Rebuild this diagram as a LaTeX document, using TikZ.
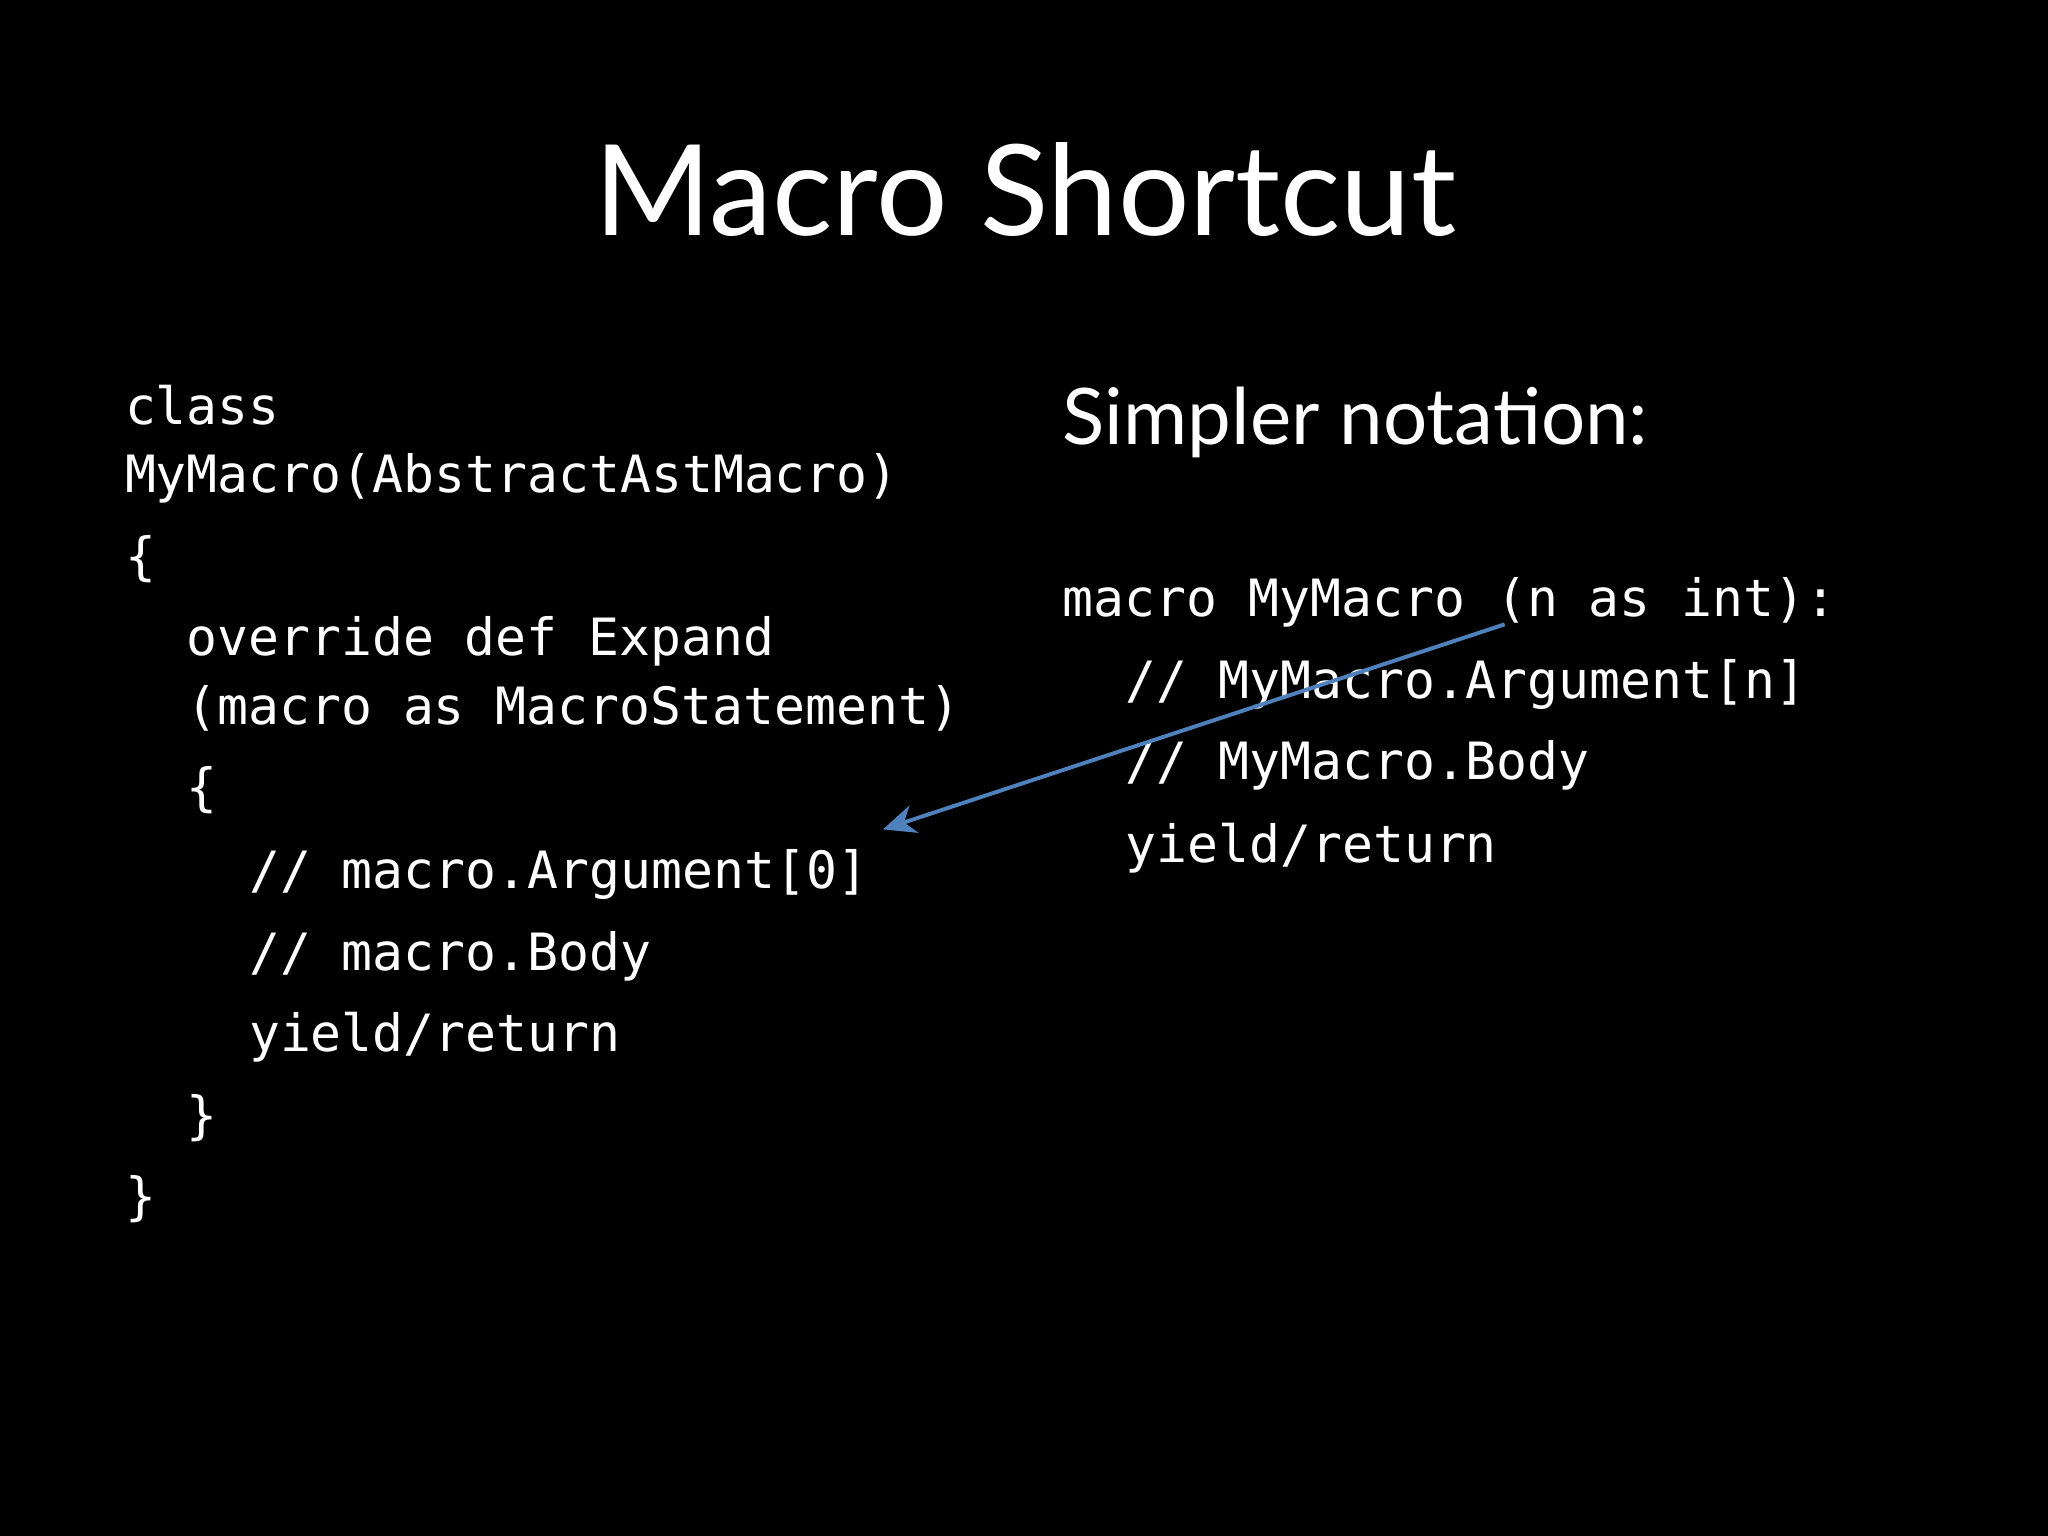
\documentclass[tikz,border=0pt]{standalone}
\usepackage{fontspec}
\setmainfont{Lato}
\setmonofont{DejaVu Sans Mono}
\begin{document}
\begin{tikzpicture}[x=0.1mm,y=-0.1mm]
\tikzset{code/.style={anchor=base west,inner sep=0pt,text=white,font=\ttfamily\fontsize{11.2}{12}\selectfont},
arr/.style={draw={rgb,255:red,79;green,129;blue,189},line width=0.3mm,-{Stealth[length=2.5mm,width=2.2mm,inset=0.8mm]}}}
\usetikzlibrary{arrows.meta}
\fill[black] (0,0) rectangle (1568,1176);
\node[anchor=base,inner sep=0pt,text=white,font=\fontsize{27.5}{30}\selectfont] (title) at (785,180) {Macro Shortcut};
\node[anchor=base west,inner sep=0pt,text=white,font=\fontsize{17}{20}\selectfont] (simp) at (813,340) {Simpler notation:};
\node[code] (l1) at (95,325) {class};
\node[code] (l2) at (95,377) {MyMacro(AbstractAstMacro)};
\node[code] (l3) at (95,440) {\{};
\node[code] (l4) at (142,502) {override def Expand};
\node[code] (l5) at (142,555) {(macro as MacroStatement)};
\node[code] (l6) at (142,617) {\{};
\node[code] (l7) at (190,680) {// macro.Argument[0]};
\node[code] (l8) at (190,743) {// macro.Body};
\node[code] (l9) at (190,805) {yield/return};
\node[code] (l10) at (142,868) {\}};
\node[code] (l11) at (95,930) {\}};
\node[code] (r1) at (813,472) {macro MyMacro (n as int):};
\node[code] (r2) at (861,535) {// MyMacro.Argument[n]};
\node[code] (r3) at (861,597) {// MyMacro.Body};
\node[code] (r4) at (861,660) {yield/return};
\coordinate (s) at (1152,478);
\coordinate (e) at (676,635);
\draw[arr] (s) -- (e);
\end{tikzpicture}
\end{document}
